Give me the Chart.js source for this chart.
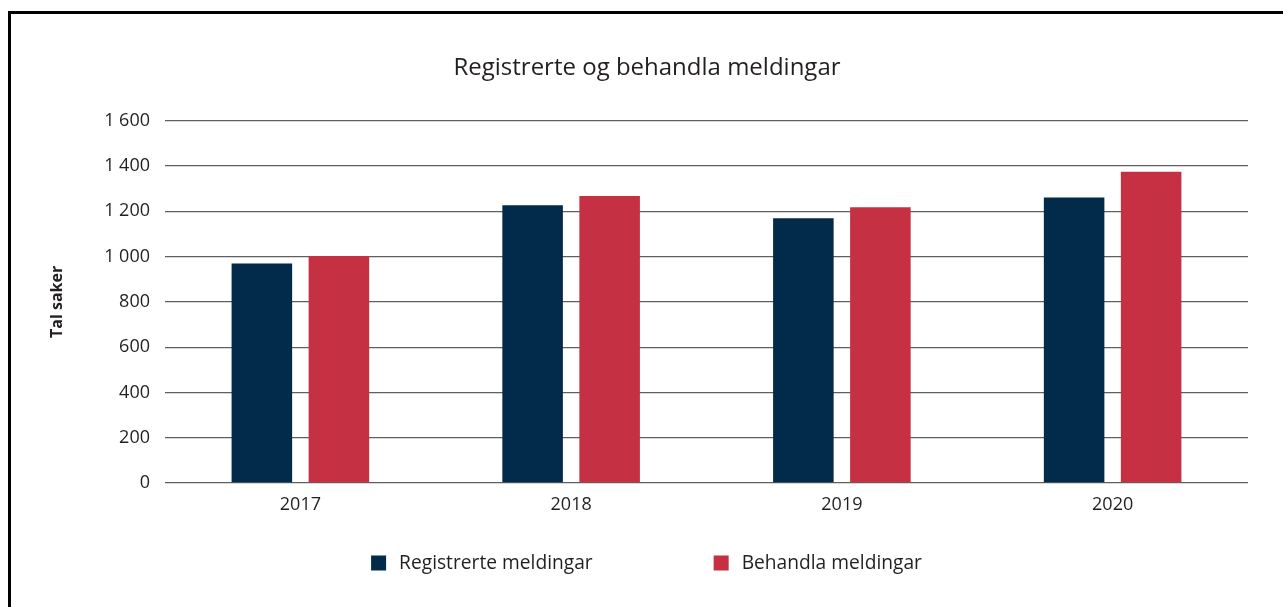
<!DOCTYPE html>
<html>
<head>
<meta charset="utf-8">
<script src="https://cdn.jsdelivr.net/npm/chart.js@4/dist/chart.umd.min.js"></script>
<style>
  html, body { margin: 0; padding: 0; background: #fff; }
  #wrap { position: relative; width: 1283px; height: 607px; overflow: hidden; }
  #frame { position: absolute; left: 8px; top: 11px; width: 1400px; height: 700px;
           border-left: 3px solid #000; border-top: 3px solid #000; pointer-events: none; }
  canvas { position: absolute; left: 0; top: 0; }
</style>
</head>
<body>
<div id="wrap">
  <canvas id="myChart" width="1283" height="607"></canvas>
  <div id="frame"></div>
</div>
<script>
const years = ['2017', '2018', '2019', '2020'];
const registrerte = [970, 1227, 1170, 1261];
const behandla = [1003, 1268, 1218, 1375];
const seriesNames = ['Registrerte meldingar', 'Behandla meldingar'];
const yTicks = [0, 200, 400, 600, 800, 1000, 1200, 1400, 1600];

const FONT = "'Open Sans', 'Noto Sans', sans-serif";
const navy = '#022b4b';
const red = '#c53042';

function fmt(v) {
  return String(v).replace(/\B(?=(\d{3})+(?!\d))/g, ' ');
}

// legend drawn by hand so the wide gap between items matches
const bottomLegend = {
  id: 'bottomLegend',
  afterDraw(chart) {
    const ctx = chart.ctx;
    const box = 15, gap = 13, itemGap = 121, y = 563;
    ctx.save();
    ctx.font = '19.2px ' + FONT;
    const items = chart.data.datasets.map(ds => ({
      label: ds.label, color: ds.backgroundColor, w: ctx.measureText(ds.label).width
    }));
    let total = 0;
    items.forEach((it, i) => { total += box + gap + it.w + (i ? itemGap : 0); });
    let x = 646.5 - total / 2;
    ctx.textBaseline = 'middle';
    ctx.textAlign = 'left';
    items.forEach(it => {
      ctx.fillStyle = it.color;
      ctx.fillRect(x, y - box / 2, box, box);
      ctx.fillStyle = '#231f20';
      ctx.fillText(it.label, x + box + gap, y + 1);
      x += box + gap + it.w + itemGap;
    });
    ctx.restore();
  }
};

new Chart(document.getElementById('myChart').getContext('2d'), {
  type: 'bar',
  data: {
    labels: years,
    datasets: [
      { label: seriesNames[0], data: registrerte, backgroundColor: navy },
      { label: seriesNames[1], data: behandla, backgroundColor: red }
    ]
  },
  options: {
    responsive: false,
    animation: false,
    layout: { padding: { left: 46, right: 35, top: 0, bottom: 0 } },
    datasets: {
      bar: { categoryPercentage: 0.569, barPercentage: 0.786 }
    },
    plugins: {
      legend: { display: false },
      tooltip: { enabled: false },
      title: {
        display: true,
        text: 'Registrerte og behandla meldingar',
        color: '#231f20',
        font: { family: FONT, size: 24, weight: 'normal', lineHeight: 1.2 },
        padding: { top: 54, bottom: 38 }
      }
    },
    scales: {
      x: {
        grid: { display: false, drawTicks: false },
        border: { display: false },
        ticks: { color: '#231f20', font: { family: FONT, size: 18 }, padding: 11 },
        afterFit(scale) { scale.height = 124; }
      },
      y: {
        min: 0,
        max: 1600,
        afterBuildTicks(scale) { scale.ticks = yTicks.map(v => ({ value: v })); },
        grid: { color: '#5f5f5f', lineWidth: 1.3, drawTicks: false },
        border: { display: false },
        ticks: {
          color: '#231f20',
          font: { family: FONT, size: 18 },
          padding: 15,
          callback: v => fmt(v)
        },
        title: {
          display: true,
          text: 'Tal saker',
          color: '#231f20',
          font: { family: FONT, size: 16, weight: 'bold' },
          padding: { top: 2, bottom: 0 }
        },
        afterFit(scale) { scale.width = 119; }
      }
    }
  },
  plugins: [bottomLegend]
});
</script>
</body>
</html>
